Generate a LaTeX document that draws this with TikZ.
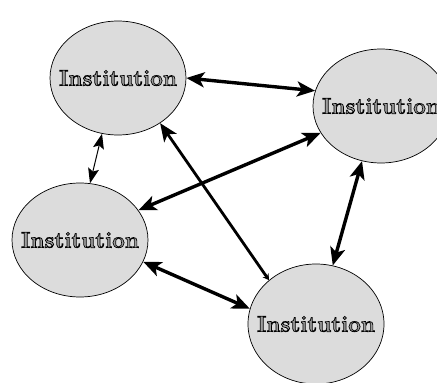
\documentclass[tikz,border=0pt]{standalone}
\usetikzlibrary{shapes.geometric,arrows.meta}
\newcommand{\outlinetext}[1]{\makebox[0pt]{\color[gray]{0.62}\special{pdf:code 0 G 2 Tr 0.7 w}#1\special{pdf:code 0 Tr}}}
\tikzset{
  inst/.style={ellipse, draw=black, line width=0.7pt, fill={rgb,255:red,220;green,220;blue,220},
    inner sep=0pt, minimum width=136pt, minimum height=114pt,
    font=\fontsize{22.5}{24}\selectfont\bfseries},
  tipbig/.tip={Stealth[length=18pt,width=15pt,inset=4.5pt]},
  tipsmall/.tip={Stealth[length=6pt,width=7pt,inset=2pt]},
  link/.style={line width=3.4pt, tipbig-tipbig},
  thinlink/.style={line width=1pt, {Stealth[length=15pt,width=11pt,inset=3pt]}-{Stealth[length=15pt,width=11pt,inset=3pt]}}
}
\begin{document}
\begin{tikzpicture}[x=1pt,y=-1pt]
\useasboundingbox (0,0) rectangle (437,383);
\node[inst] (e1) at (118,78) {\outlinetext{Institution}};
\node[inst] (e2) at (381,106) {\outlinetext{Institution}};
\node[inst] (e3) at (80,240) {\outlinetext{Institution}};
\node[inst, minimum height=120pt] (e4) at (316,324) {\outlinetext{Institution}};
\draw[link] (e1.0) -- (e2.167);
\draw[link] (e2.204) -- (e3.27);
\draw[thinlink] (e1.254) -- (e3.80);
\draw[line width=2.8pt, tipbig-tipsmall] (e1.313) -- (e4.137);
\draw[link] (e3.341) -- (e4.167);
\draw[link] (e2.251) -- (e4.74);
\end{tikzpicture}
\end{document}
